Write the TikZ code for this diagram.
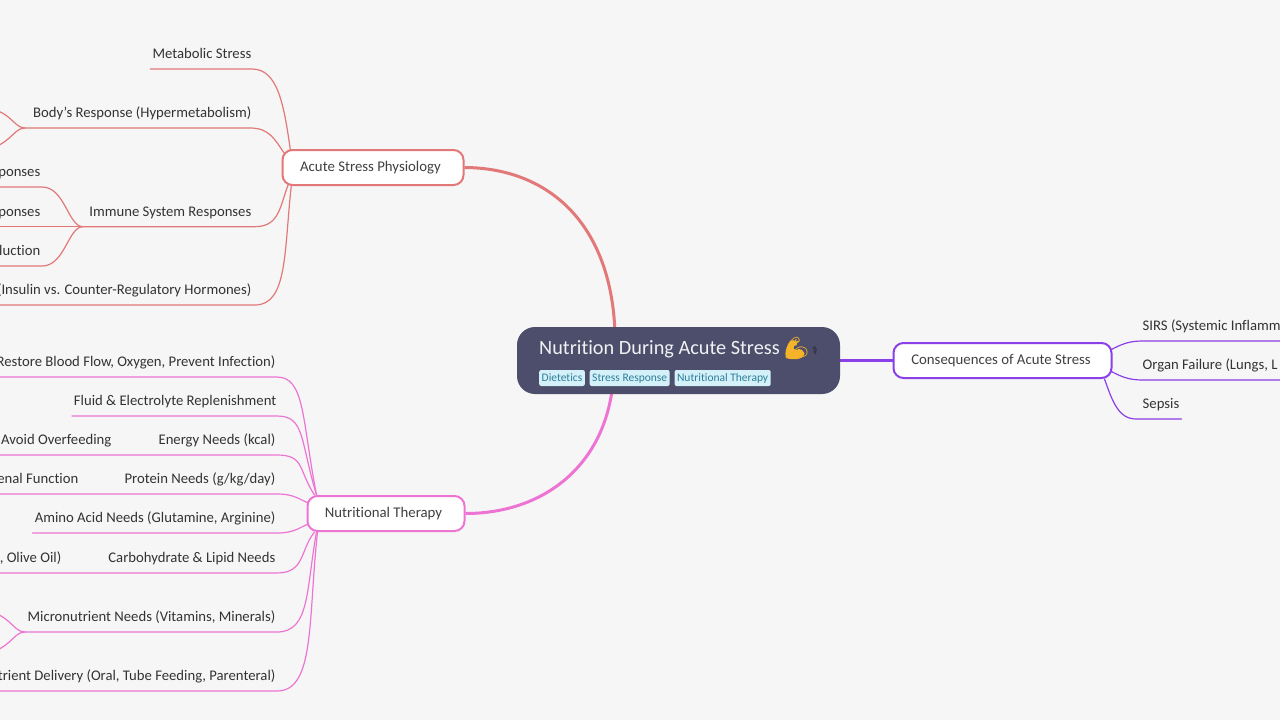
\documentclass[tikz,border=0pt]{standalone}
\usepackage{fontspec}
\setmainfont{Carlito}[Ligatures=NoCommon]
\newfontfamily\emojifont{Noto Emoji}
\newfontfamily\symfont{DejaVu Sans}
\usetikzlibrary{positioning,backgrounds}
\definecolor{bgcol}{HTML}{F6F6F6}
\definecolor{rootcol}{HTML}{4C4E6B}
\definecolor{redcol}{HTML}{E27878}
\definecolor{pinkcol}{HTML}{EE74D4}
\definecolor{purplecol}{HTML}{8A3FE8}
\definecolor{tagcol}{HTML}{D4F0F8}
\definecolor{tagtext}{HTML}{2E7F9A}
\definecolor{leaftext}{HTML}{333333}
\definecolor{armcol}{HTML}{F5B32A}
\tikzset{
 rootbox/.style={fill=rootcol,rounded corners=18pt,minimum width=323pt,minimum height=67pt,inner sep=0pt},
 tagbox/.style={fill=tagcol,text=tagtext,rounded corners=2pt,font=\fontsize{11.5}{12}\selectfont,inner xsep=2.5pt,inner ysep=0pt,text height=9pt,text depth=3pt,minimum height=16pt},
 topicbox/.style={draw=#1,fill=white,line width=2pt,rounded corners=10pt,text=black!75,font=\fontsize{14.8}{18}\selectfont,minimum height=35pt,inner ysep=0pt},
 leaf/.style={anchor=south east,text=leaftext,font=\fontsize{14.7}{18}\selectfont,inner xsep=2pt,inner ysep=6.2pt,text height=11pt,text depth=4pt},
 link/.style={draw=#1,line width=1.2pt,line cap=round},
 mainlink/.style={draw=#1,line width=3pt}
}
\begin{document}
\begin{tikzpicture}[x=1pt,y=-1pt]
\useasboundingbox (0,0) rectangle (1280,720);
\def\xl{-5} \def\xr{1285}
% centre
\node[rootbox] (root) at (678.5,360.5) {};
\fill[armcol] (790,341) .. controls (794,339) and (798,341) .. (797,345) -- (794,346) .. controls (793,349) and (794,350) .. (796,350) .. controls (800,347) and (805,351) .. (804,355) .. controls (802,360) and (792,360) .. (786,358) .. controls (784,353) and (787,345) .. cycle;
\node[anchor=base west,inner sep=0pt,text=white!92!rootcol,font=\fontsize{20.3}{24}\selectfont] (title) at (539,354) {Nutrition During Acute Stress {\emojifont\textcolor{armcol}{💪}}\hspace{2pt}{\symfont\fontsize{11}{12}\selectfont\textcolor{black!60!rootcol}{⚕}}};
\node[tagbox,anchor=west] (tagA) at (539,378) {Dietetics};
\node[tagbox,right=4.5pt of tagA] (tagB) {Stress Response};
\node[tagbox,right=4.5pt of tagB] (tagC) {Nutritional Therapy};
% topics
\node[topicbox=redcol,minimum width=181pt] (physio) at (373,167.5) {Acute Stress Physiology\kern5pt};
\node[topicbox=pinkcol,minimum width=157pt] (therapy) at (386,513.5) {Nutritional Therapy\kern5pt};
\node[topicbox=purplecol,minimum width=218pt] (conseq) at (1002.5,360.5) {Consequences of Acute Stress\kern3pt};
% leaves
\foreach \nm/\x/\y/\txt in {
 metabolic/253.5/69/{Metabolic Stress},
 body/253.5/128/{Body's Response (Hypermetabolism)},
 immune/253.5/227/{Immune System Responses},
 immuneA/42.5/187/{ponses},
 immuneB/42.5/227/{ponses},
 immuneC/42.5/266/{luction},
 hormones/253.5/305/{(Insulin vs. Counter-Regulatory Hormones)},
 restore/277.5/377/{Restore Blood Flow, Oxygen, Prevent Infection)},
 fluid/278.5/416/{Fluid \& Electrolyte Replenishment},
 energy/277.5/455/{Energy Needs (kcal)},
 overfeed/113.5/455/{Avoid Overfeeding},
 protein/277.5/494/{Protein Needs (g/kg/day)},
 renal/80.5/494/{enal Function},
 amino/277.5/533/{Amino Acid Needs (Glutamine, Arginine)},
 carb/277.5/573/{Carbohydrate \& Lipid Needs},
 olive/63.5/573/{, Olive Oil)},
 micro/277.5/632/{Micronutrient Needs (Vitamins, Minerals)},
 delivery/277.5/691/{trient Delivery (Oral, Tube Feeding, Parenteral)}
}\node[leaf] (\nm) at (\x,\y) {\txt};
\foreach \nm/\x/\y/\txt in {
 sirs/1140.5/341/{SIRS (Systemic Inflamm},
 organ/1140.5/380/{Organ Failure (Lungs, L},
 sepsis/1140.5/419/{Sepsis}
}\node[leaf,anchor=south west] (\nm) at (\x,\y) {\txt};
\begin{scope}[on background layer]
\fill[bgcol] (0,0) rectangle (1280,720);
% main branches
\draw[mainlink=redcol] (root.north west) ++(98,2) .. controls (610,225) and (550,168) .. (physio.east);
\draw[mainlink=pinkcol] (root.south west) ++(95,-2) .. controls (600,470) and (540,513.5) .. (therapy.east);
\draw[mainlink=purplecol] (root.east) -- (conseq.west);
% physiology
\draw[link=redcol] (physio.north west) ++(9,2) .. controls (284,105) and (278,69) .. (252,69) -- (metabolic.south west);
\draw[link=redcol] (physio.north west) ++(4,6) .. controls (275,140) and (270,128) .. (250,128) -- (25,128) .. controls (15,128) and (12,115) .. (\xl,110);
\draw[link=redcol] (25,128) .. controls (15,128) and (12,140) .. (\xl,147);
\draw[link=redcol] (physio.south west) ++(7,-2) .. controls (280,205) and (280,226.7) .. (255,226.7) -- (83,226.7) .. controls (68,226.7) and (65,187) .. (42,187) -- (\xl,187);
\draw[link=redcol] (83,226.7) -- (\xl,226.7);
\draw[link=redcol] (83,226.7) .. controls (68,226.7) and (65,266) .. (42,266) -- (\xl,266);
\draw[link=redcol] (physio.south west) ++(10,-2) .. controls (284,250) and (288,305) .. (255,305) -- (\xl,305);
% therapy
\foreach \y/\xe/\sx/\sy/\cxa/\cya in {
 377/\xl/10/0/302/420,
 416/72/10/0/300/440,
 455/\xl/8/0/298/470
}\draw[link=pinkcol] (therapy.north west) ++(\sx,\sy) .. controls (\cxa,\cya) and (305,\y) .. (277,\y) -- (\xe,\y);
\draw[link=pinkcol] (therapy.north west) ++(2,8) .. controls (300,500) and (295,494) .. (277,494) -- (\xl,494);
\draw[link=pinkcol] (therapy.south west) ++(2,-8) .. controls (300,527) and (295,533) .. (277,533) -- (amino.south west);
\draw[link=pinkcol] (therapy.south west) ++(8,0) .. controls (300,550) and (305,573) .. (277,573) -- (\xl,573);
\draw[link=pinkcol] (therapy.south west) ++(10,0) .. controls (306,590) and (310,632) .. (277,632) -- (25,632) .. controls (15,632) and (12,620) .. (\xl,613);
\draw[link=pinkcol] (25,632) .. controls (15,632) and (12,644) .. (\xl,651);
\draw[link=pinkcol] (therapy.south west) ++(11,0) .. controls (308,620) and (315,691) .. (277,691) -- (\xl,691);
% consequences
\draw[link=purplecol] (conseq.north east) ++(-2,8) .. controls (1120,345) and (1128,341) .. (1142,341) -- (\xr,341);
\draw[link=purplecol] (conseq.south east) ++(-2,-8) .. controls (1120,376) and (1128,380) .. (1142,380) -- (\xr,380);
\draw[link=purplecol] (conseq.south east) ++(-8,0) .. controls (1112,400) and (1118,419) .. (1136,419) -- (sepsis.south east);
\end{scope}
\end{tikzpicture}
\end{document}
